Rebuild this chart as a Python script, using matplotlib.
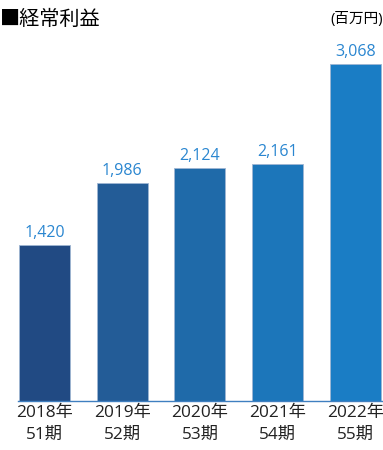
import numpy as np
import matplotlib.pyplot as plt

plt.rcParams['font.family'] = ['Open Sans', 'Noto Sans CJK JP', 'DejaVu Sans']

# 経常利益（百万円）
years = ['2018年\n51期', '2019年\n52期', '2020年\n53期', '2021年\n54期', '2022年\n55期']
values = [1420, 1986, 2124, 2161, 3068]
colors = ['#214a83', '#235c97', '#1f6aa9', '#1c76ba', '#1a7dc5']

fig = plt.figure(figsize=(3.83, 4.5), dpi=100, facecolor='w')
ax = fig.add_axes([18/383, 49/450, 365/383, 361/450])

x = np.arange(len(values))
ax.bar(x, values, width=0.656, color=colors, edgecolor='#9fb6d3', linewidth=0.6)

for xi, v in zip(x, values):
    ax.text(xi, v + 35, f'{v:,}', ha='center', va='bottom', fontsize=11.5, color='#2a86d0')

ax.set_xlim(-0.341, 4.354)
ax.set_ylim(0, 3285)
ax.set_xticks(x)
ax.set_xticklabels(years, fontsize=12.4, linespacing=1.45, color='#222222')
ax.tick_params(axis='x', length=0, pad=3)
ax.set_yticks([])
for s in ['top', 'right', 'left']:
    ax.spines[s].set_visible(False)
ax.spines['bottom'].set_color('#3f7fc0')
ax.spines['bottom'].set_linewidth(1.0)

fig.text(0.0, 1 - 19/450, '■経常利益', fontsize=14.5, va='center', ha='left',
         family=['Noto Sans CJK JP', 'DejaVu Sans'])
fig.text(1.0, 1 - 19/450, '(百万円)', fontsize=10.5, va='center', ha='right')

fig.savefig('out.png', dpi=100)
